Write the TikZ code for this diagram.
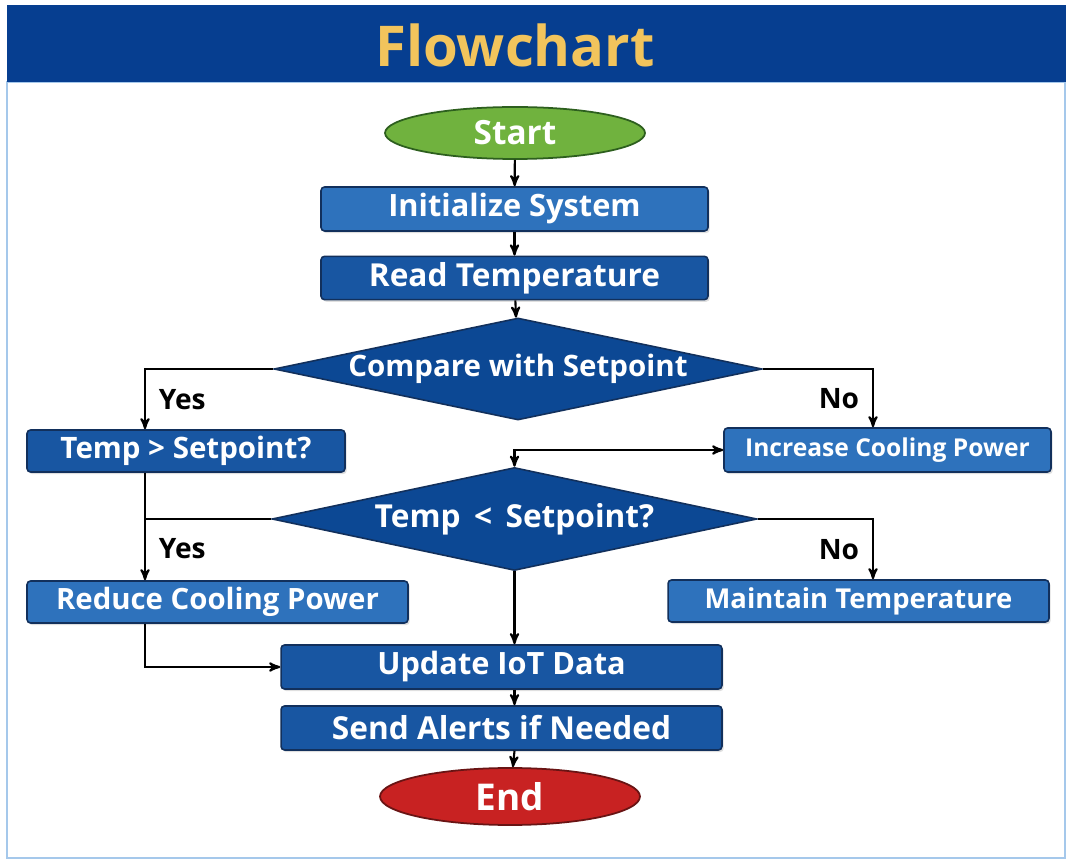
\documentclass[tikz,border=0pt]{standalone}
\usepackage{fontspec}
\setmainfont{Open Sans}
\usetikzlibrary{arrows, shapes.geometric, shadows}

\definecolor{barblue}{RGB}{6,62,144}
\definecolor{titlegold}{RGB}{242,196,92}
\definecolor{frameblue}{RGB}{165,200,235}
\definecolor{startgreen}{RGB}{112,178,62}
\definecolor{startline}{RGB}{45,95,30}
\definecolor{endred}{RGB}{200,34,34}
\definecolor{endline}{RGB}{105,20,20}
\definecolor{boxlight}{RGB}{46,114,188}
\definecolor{boxdark}{RGB}{24,86,162}
\definecolor{diamblue}{RGB}{12,72,148}
\definecolor{boxline}{RGB}{18,48,92}

\newcommand{\fs}[1]{\fontsize{#1}{#1}\selectfont\bfseries}

\begin{document}
\begin{tikzpicture}[x=0.02cm, y=-0.02cm, >=stealth', line width=1.2pt,
  block/.style={rectangle, rounded corners=2pt, draw=boxline, fill=boxlight,
    text=white, font=\fs{17}, line width=0.9pt,
    drop shadow={shadow xshift=1pt, shadow yshift=-1.2pt, opacity=0.25}},
  darkblock/.style={block, fill=boxdark},
  decision/.style={diamond, draw=boxline, fill=diamblue, text=white, inner sep=0pt,
    font=\fs{17}, line width=0.9pt},
  terminal/.style={ellipse, inner sep=0pt, line width=1pt, text=white},
  answer/.style={font=\fs{16}, text=black}]

\useasboundingbox (0,0) rectangle (1066,861);

% frame and title bar
\draw[frameblue, line width=1.5pt, fill=white] (7,82) rectangle (1065,858);
\fill[barblue] (7,5) rectangle (1066,82);
\node (title) at (515,45) [text=titlegold, font=\fs{32}] {Flowchart};

% define the blocks
\node[terminal, fill=startgreen, draw=startline, minimum width=5.2cm, minimum height=1.04cm, font=\fs{19}]
  (start) at (515,133) {Start};
\node[block, minimum width=7.74cm, minimum height=0.88cm, font=\fs{17.5}] (init) at (514.5,209) {Initialize System};
\node[darkblock, minimum width=7.74cm, minimum height=0.86cm, font=\fs{18}] (read) at (514.5,278) {Read Temperature};
\node[decision, aspect=4.8, minimum width=9.76cm, minimum height=2.04cm, font=\fs{16.8}] (cmp) at (518,369) {Compare with Setpoint};
\node[darkblock, minimum width=6.36cm, minimum height=0.84cm, font=\fs{16.8}] (gt) at (186,451) {Temp > Setpoint?};
\node[block, minimum width=6.54cm, minimum height=0.88cm, font=\fs{14}] (inc) at (887.5,450) {Increase Cooling Power};
\node[decision, aspect=4.7, minimum width=9.7cm, minimum height=2.06cm, font=\fs{18}] (lt) at (514.5,519) {Temp \,<\, Setpoint?};
\node[block, minimum width=7.62cm, minimum height=0.84cm, font=\fs{16.7}] (red) at (217.5,602) {Reduce Cooling Power};
\node[block, minimum width=7.62cm, minimum height=0.84cm, font=\fs{15.6}] (keep) at (858.5,601) {Maintain Temperature};
\node[darkblock, minimum width=8.82cm, minimum height=0.88cm, font=\fs{17.5}] (upd) at (501.5,667) {Update IoT Data};
\node[darkblock, minimum width=8.82cm, minimum height=0.88cm, font=\fs{18}] (alert) at (501.5,728) {Send Alerts if Needed};
\node[terminal, fill=endred, draw=endline, minimum width=5.2cm, minimum height=1.14cm, font=\fs{21}]
  (stop) at (510,796.5) {End};

% columns for the side branches
\coordinate (lcol) at (145,0);
\coordinate (rcol) at (873,0);

% define the links
\path[->] (start) edge (init)
          (init) edge (read)
          (read) edge (cmp)
          (lt.south) edge (lt.south |- upd.north)
          (upd.south -| read.south) edge (alert.north -| read.south)
          (alert.south -| read.south) edge (stop);
\draw[->] (cmp.west) -| (lcol |- gt.north) node[answer, pos=0.75, right=4pt] {Yes};
\draw[->] (cmp.east) -| (rcol |- inc.north) node[answer, pos=0.75, left=4pt] {No};
\draw[->] (lcol |- gt.south) -- (lcol |- red.north) node[answer, pos=0.71, right=4pt] {Yes};
\draw (lcol |- lt.west) -- (lt.west);
\draw[<->] (lt.north) |- (inc.west);
\draw[->] (lt.east) -| (rcol |- keep.north) node[answer, pos=0.75, left=4pt] {No};
\draw[->] (lcol |- red.south) |- (upd.west);

\end{tikzpicture}
\end{document}
